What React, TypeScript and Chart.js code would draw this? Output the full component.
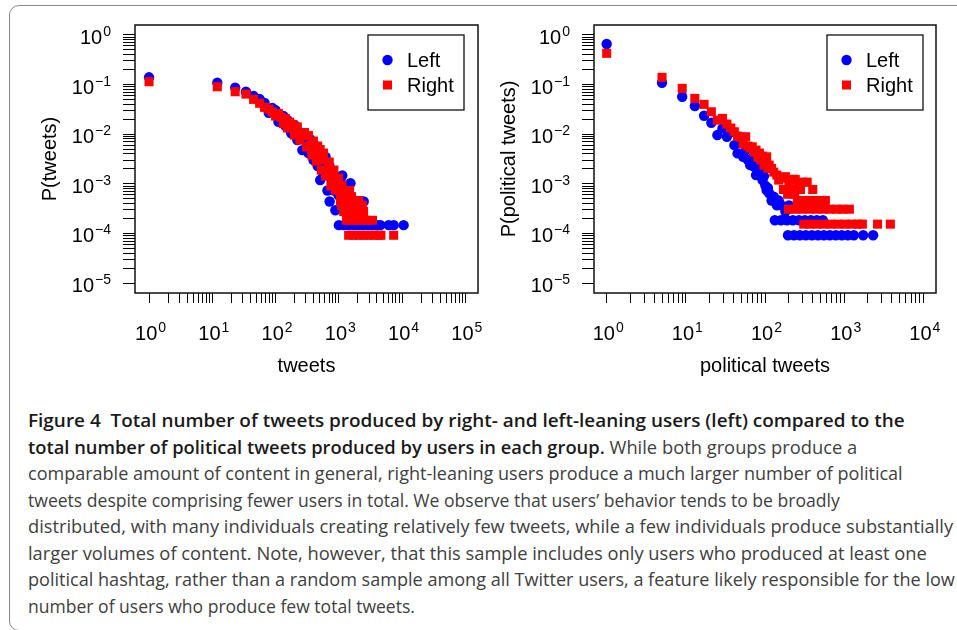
import React, { useEffect, useLayoutEffect, useRef } from 'react';
import { Chart, registerables } from 'chart.js';

Chart.register(...registerables);
const FONT = '"Liberation Sans", Arial, Helvetica, sans-serif';
Chart.defaults.font.family = FONT;
Chart.defaults.color = '#000';

type Pt = [number, number];

// ---------- Left panel: all tweets (x = tweets, y = P(tweets)) ----------
const tweetsLeft: Pt[] = [
  [1, 0.14], [12, 0.109], [23, 0.0862], [34, 0.072], [45, 0.0586], [56, 0.051], [67, 0.0424],
  [78, 0.027], [89, 0.0336], [100, 0.0306], [111, 0.0178], [122, 0.0221], [133, 0.0232],
  [144, 0.0146], [155, 0.0192], [166, 0.0146], [177, 0.0104], [188, 0.0133], [199, 0.0153],
  [221, 0.00762], [243, 0.0096], [265, 0.00478], [287, 0.0105], [309, 0.00693], [331, 0.00416],
  [353, 0.00796], [375, 0.00478], [397, 0.00301], [419, 0.00603], [441, 0.00379], [463, 0.00228],
  [485, 0.00478], [507, 0.00119], [529, 0.00274], [551, 0.00379], [573, 0.0015], [617, 0.0035],
  [639, 0.00189], [661, 0.000735], [705, 0.00238], [716, 0.000441], [749, 0.0013], [793, 0.00172],
  [837, 0.000735], [881, 0.000294], [925, 0.00103], [991, 0.000588], [1057, 0.00118], [1133, 0.00147],
  [1189, 0.000441], [1277, 0.000588], [1343, 0.000294], [1431, 0.000735], [1530, 0.00103],
  [1651, 0.000441], [1816, 0.000294], [2003, 0.000441], [2201, 0.000294], [2476, 0.000441],
  [1002, 0.000147], [1200, 0.000147], [1420, 0.000147], [1709, 0.000147], [2049, 0.000147],
  [2450, 0.000147], [2948, 0.000147], [3410, 0.000147], [4036, 0.000147], [4548, 0.000147],
  [6141, 0.000147], [7361, 0.000147], [10570, 0.000147],
];
const tweetsRight: Pt[] = [
  [1, 0.114], [12, 0.0903], [23, 0.0716], [34, 0.0643], [45, 0.0503], [56, 0.042], [67, 0.0347],
  [78, 0.0321], [89, 0.0279], [100, 0.0232], [111, 0.026], [122, 0.0221], [133, 0.0163],
  [144, 0.0206], [155, 0.0133], [166, 0.0175], [177, 0.014], [188, 0.0157], [199, 0.0096],
  [221, 0.014], [243, 0.00762], [265, 0.0096], [287, 0.0108], [309, 0.0055], [331, 0.00937],
  [353, 0.00603], [375, 0.00379], [397, 0.00726], [419, 0.00478], [441, 0.00287], [463, 0.00576],
  [485, 0.00362], [507, 0.0049], [529, 0.00189], [551, 0.00301], [573, 0.00416], [617, 0.00143],
  [661, 0.00189], [705, 0.00274], [749, 0.0009], [793, 0.0013], [837, 0.00189], [881, 0.00075],
  [925, 0.00108], [991, 0.0013], [1057, 0.000552], [1123, 0.00092],
  [1188, 0.000736], [1478, 0.000736], [1105, 0.000644], [1325, 0.000644],
  [1277, 0.000552], [1589, 0.000552], [1065, 0.00046], [1330, 0.00046], [1648, 0.00046], [2049, 0.00046],
  [1110, 0.000368], [1425, 0.000368], [1837, 0.000368], [2370, 0.000368],
  [1195, 0.000276], [1532, 0.000276], [1976, 0.000276], [2458, 0.000276],
  [1320, 0.000184], [1595, 0.000184], [1905, 0.000184], [2285, 0.000184], [2742, 0.000184], [3410, 0.000184],
  [1430, 0.000092], [1709, 0.000092], [2055, 0.000092], [2465, 0.000092], [2948, 0.000092],
  [3535, 0.000092], [4235, 0.000092], [4630, 0.000092], [7361, 0.000092],
];

// ---------- Right panel: political tweets ----------
const politicalLeft: Pt[] = [
  [1, 0.656], [5, 0.109], [9, 0.0568], [13, 0.0369], [17, 0.0235], [21, 0.017], [25, 0.0096],
  [29, 0.0131], [33, 0.00887], [37, 0.011], [41, 0.00603], [45, 0.0041], [49, 0.00662], [53, 0.0035],
  [57, 0.00478], [61, 0.003], [65, 0.00238], [69, 0.0033], [73, 0.00221], [77, 0.0015], [81, 0.00207],
  [85, 0.00172], [89, 0.00162], [93, 0.00119], [97, 0.00143], [101, 0.00092], [105, 0.000736],
  [109, 0.000828], [113, 0.000644], [121, 0.00046], [129, 0.000552], [141, 0.000368], [149, 0.00046],
  [161, 0.000368], [181, 0.000276], [201, 0.000368],
  [133, 0.000184], [159, 0.000184], [189, 0.000184], [225, 0.000184], [268, 0.000184], [319, 0.000184],
  [380, 0.000184], [452, 0.000184], [538, 0.000184],
  [195, 0.000092], [232, 0.000092], [276, 0.000092], [328, 0.000092], [391, 0.000092], [466, 0.000092],
  [554, 0.000092], [659, 0.000092], [785, 0.000092], [935, 0.000092], [1113, 0.000092], [1325, 0.000092],
  [1738, 0.000092], [2323, 0.000092],
];
const politicalRight: Pt[] = [
  [1, 0.426], [5, 0.14], [9, 0.0838], [13, 0.0527], [17, 0.0399], [21, 0.0283], [25, 0.0192],
  [29, 0.0208], [33, 0.016], [37, 0.0133], [41, 0.0112], [45, 0.00916], [49, 0.00874], [53, 0.00631],
  [57, 0.00887], [61, 0.00576], [65, 0.00525], [69, 0.00557], [73, 0.00436], [77, 0.00478],
  [81, 0.00345], [85, 0.00416], [89, 0.00301], [93, 0.00362], [97, 0.00238], [101, 0.00274],
  [105, 0.0035], [109, 0.00207], [113, 0.00238], [121, 0.00204], [129, 0.00172], [141, 0.0015],
  [149, 0.00119], [161, 0.0013], [171, 0.00077], [181, 0.00139], [193, 0.000616], [201, 0.00108],
  [213, 0.00077], [221, 0.00123], [237, 0.000616], [241, 0.00123], [261, 0.000924], [265, 0.00077],
  [281, 0.00077], [301, 0.00108], [341, 0.00108], [401, 0.00077],
  [256, 0.000462], [305, 0.000462], [364, 0.000462], [433, 0.000462], [515, 0.000462], [579, 0.000462],
  [197, 0.000308], [239, 0.000308], [292, 0.000308], [358, 0.000308], [439, 0.000308], [538, 0.000308],
  [659, 0.000308], [807, 0.000308], [961, 0.000308], [1163, 0.000308],
  [309, 0.000154], [369, 0.000154], [452, 0.000154], [554, 0.000154], [679, 0.000154], [832, 0.000154],
  [1021, 0.000154], [1251, 0.000154], [1489, 0.000154], [1698, 0.000154], [2641, 0.000154], [3831, 0.000154],
];

const seriesNames = ['Left', 'Right'];
const seriesColors = ['#0000ff', '#ff0000'];

const yDecades = [-5, -4, -3, -2, -1, 0];
const tweetsXDecades = [0, 1, 2, 3, 4, 5];
const politicalXDecades = [0, 1, 2, 3, 4];
const minorMultipliers = [1, 2, 3, 4, 5, 6, 7, 8, 9];

const captionTitle = [
  'Figure 4\u00a0\u00a0Total number of tweets produced by right- and left-leaning users (left) compared to the',
  'total number of political tweets produced by users in each group.',
];
const captionBody = [
  ' While both groups produce a',
  'comparable amount of content in general, right-leaning users produce a much larger number of political',
  'tweets despite comprising fewer users in total. We observe that users\u2019 behavior tends to be broadly',
  'distributed, with many individuals creating relatively few tweets, while a few individuals produce substantially',
  'larger volumes of content. Note, however, that this sample includes only users who produced at least one',
  'political hashtag, rather than a random sample among all Twitter users, a feature likely responsible for the low',
  'number of users who produce few total tweets.',
];
// rendered width of each caption line (layout)
const captionLineWidths = [877, 829, 875, 812, 925, 899, 927, 387];

function logTicks(decades: number[]) {
  const out: number[] = [];
  for (let i = 0; i < decades.length - 1; i++) {
    for (const m of minorMultipliers) out.push(m * Math.pow(10, decades[i]));
  }
  out.push(Math.pow(10, decades[decades.length - 1]));
  return out;
}
function decadeOf(v: number): number | null {
  const l = Math.log10(v);
  const r = Math.round(l);
  return Math.abs(l - r) < 1e-6 ? r : null;
}

// draws "10" with a raised exponent at every decade tick of each axis
const powerLabelPlugin = {
  id: 'powerLabels',
  afterDraw(chart: any) {
    const { ctx } = chart;
    ctx.save();
    ctx.fillStyle = '#000';
    ctx.textBaseline = 'alphabetic';
    ctx.textAlign = 'left';
    for (const id of ['x', 'y']) {
      const s = chart.scales[id];
      for (const t of s.ticks) {
        const e = decadeOf(t.value);
        if (e === null) continue;
        const base = '10';
        const sup = String(e).replace('-', '\u2212');
        ctx.font = `20px ${FONT}`;
        const wb = ctx.measureText(base).width;
        ctx.font = `14px ${FONT}`;
        const ws = ctx.measureText(sup).width;
        const total = wb + 1 + ws;
        const p = s.getPixelForValue(t.value);
        let x0: number;
        let by: number;
        if (id === 'x') {
          x0 = p - total / 2 + 1.5;
          by = s.top + 47;
        } else {
          x0 = s.right - 24 - total;
          by = p + 9;
        }
        ctx.font = `20px ${FONT}`;
        ctx.fillText(base, x0, by);
        ctx.font = `14px ${FONT}`;
        ctx.fillText(sup, x0 + wb + 1, by - 8);
      }
    }
    ctx.restore();
  },
};

const boxPlugin = {
  id: 'plotBox',
  afterDraw(chart: any) {
    const { ctx, chartArea: a } = chart;
    ctx.save();
    ctx.strokeStyle = '#111';
    ctx.lineWidth = 1.5;
    ctx.strokeRect(a.left, a.top, a.right - a.left, a.bottom - a.top);
    ctx.restore();
  },
};

const legendPlugin = {
  id: 'boxLegend',
  afterDatasetsDraw(chart: any, _args: any, opts: any) {
    const { ctx, chartArea: a } = chart;
    const w = 96;
    const h = 75;
    const x0 = a.right - opts.right - w;
    const y0 = a.top + opts.top;
    ctx.save();
    ctx.fillStyle = '#fff';
    ctx.fillRect(x0, y0, w, h);
    ctx.strokeStyle = '#111';
    ctx.lineWidth = 1.3;
    ctx.strokeRect(x0, y0, w, h);
    chart.data.datasets.forEach((ds: any, i: number) => {
      const cy = y0 + 25 + i * 25;
      const cx = x0 + 19.5;
      ctx.fillStyle = ds.backgroundColor;
      if (ds.pointStyle === 'rect') {
        ctx.fillRect(cx - 4.5, cy - 4.5, 9, 9);
      } else {
        ctx.beginPath();
        ctx.arc(cx, cy, 5.2, 0, Math.PI * 2);
        ctx.fill();
      }
      ctx.fillStyle = '#000';
      ctx.font = `20px ${FONT}`;
      ctx.textBaseline = 'middle';
      ctx.textAlign = 'left';
      ctx.fillText(ds.label, x0 + 39, cy + 1);
    });
    ctx.restore();
  },
};

function makeConfig(p: {
  series: Pt[][];
  xDecades: number[];
  xPad: number;
  xTitle: string;
  yTitle: string;
  yAxisWidth: number;
  yTitlePad: number;
  padRight: number;
  legendRight: number;
}): any {
  const xd = p.xDecades;
  const xMin = Math.pow(10, xd[0] - p.xPad);
  const xMax = Math.pow(10, xd[xd.length - 1] + p.xPad);
  const xTicks = logTicks(xd);
  const yTicks = logTicks(yDecades);
  return {
    type: 'scatter',
    data: {
      datasets: p.series.map((pts, i) => ({
        label: seriesNames[i],
        data: pts.map(([x, y]) => ({ x, y })),
        backgroundColor: seriesColors[i],
        borderColor: seriesColors[i],
        borderWidth: 0,
        pointStyle: i === 0 ? 'circle' : 'rect',
        pointRadius: i === 0 ? 5.2 : 6.4,
        pointHoverRadius: i === 0 ? 5.2 : 6.4,
        order: i === 0 ? 1 : 0,
      })),
    },
    options: {
      animation: false,
      responsive: false,
      events: [],
      layout: { padding: { left: 0, top: 25, right: p.padRight, bottom: 0 } },
      plugins: {
        legend: { display: false },
        tooltip: { enabled: false },
        boxLegend: { right: p.legendRight, top: 10 },
      },
      scales: {
        x: {
          type: 'logarithmic',
          position: 'bottom',
          min: xMin,
          max: xMax,
          afterBuildTicks: (s: any) => {
            s.ticks = xTicks.map((v) => ({ value: v }));
          },
          afterFit: (s: any) => {
            s.height = 97;
          },
          ticks: { autoSkip: false, maxRotation: 0, padding: 0, callback: () => '' },
          grid: { drawOnChartArea: false, drawTicks: true, tickLength: 10, color: '#000', lineWidth: 1 },
          border: { display: false },
          title: { display: true, text: p.xTitle, color: '#000', font: { size: 20 }, padding: { top: 0, bottom: 12 } },
        },
        y: {
          type: 'logarithmic',
          position: 'left',
          min: Math.pow(10, -5.2),
          max: Math.pow(10, 0.2),
          afterBuildTicks: (s: any) => {
            s.ticks = yTicks.map((v) => ({ value: v }));
          },
          afterFit: (s: any) => {
            s.width = p.yAxisWidth;
          },
          ticks: { autoSkip: false, padding: 0, callback: () => '' },
          grid: { drawOnChartArea: false, drawTicks: true, tickLength: 12, color: '#000', lineWidth: 1 },
          border: { display: false },
          title: { display: true, text: p.yTitle, color: '#000', font: { size: 20 }, padding: { top: p.yTitlePad, bottom: 0 } },
        },
      },
    },
    plugins: [boxPlugin, legendPlugin, powerLabelPlugin],
  };
}

export default function App() {
  const c1 = useRef<HTMLCanvasElement>(null);
  const c2 = useRef<HTMLCanvasElement>(null);
  const lineRefs = useRef<(HTMLSpanElement | null)[]>([]);

  useEffect(() => {
    const a = new Chart(c1.current as HTMLCanvasElement, makeConfig({
      series: [tweetsLeft, tweetsRight],
      xDecades: tweetsXDecades,
      xPad: 0.2,
      xTitle: 'tweets',
      yTitle: 'P(tweets)',
      yAxisWidth: 135,
      yTitlePad: 38,
      padRight: 12,
      legendRight: 14,
    }));
    const b = new Chart(c2.current as HTMLCanvasElement, makeConfig({
      series: [politicalLeft, politicalRight],
      xDecades: politicalXDecades,
      xPad: 0.16,
      xTitle: 'political tweets',
      yTitle: 'P(political tweets)',
      yAxisWidth: 104,
      yTitlePad: 7,
      padRight: 21,
      legendRight: 13,
    }));
    return () => {
      a.destroy();
      b.destroy();
    };
  }, []);

  useLayoutEffect(() => {
    const fit = () => {
      lineRefs.current.forEach((el, i) => {
        if (!el) return;
        const w = el.offsetWidth;
        if (w > 0) el.style.transform = `scaleX(${captionLineWidths[i] / w})`;
      });
    };
    fit();
    const fonts = (document as any).fonts;
    if (fonts && fonts.ready) fonts.ready.then(fit);
  }, []);

  const lineBox: React.CSSProperties = { display: 'block', whiteSpace: 'nowrap', height: 26.5 };
  const lineInner: React.CSSProperties = { display: 'inline-block', whiteSpace: 'nowrap', transformOrigin: '0 0' };
  const bold: React.CSSProperties = { fontWeight: 600, color: '#1a1a1a' };

  const lines: React.ReactNode[] = [
    <span style={bold}>{captionTitle[0]}</span>,
    <>
      <span style={bold}>{captionTitle[1]}</span>
      {captionBody[0]}
    </>,
    ...captionBody.slice(1),
  ];

  return (
    <div style={{ position: 'absolute', left: 0, top: 0, width: 957, height: 630, overflow: 'hidden', background: '#fff' }}>
      <div
        style={{
          position: 'absolute', left: 8.5, top: 4.5, width: 1000, height: 626,
          border: '1.5px solid #8a8a8a', borderRadius: 10, boxSizing: 'border-box',
        }}
      />
      <canvas ref={c1} width={490} height={390} style={{ position: 'absolute', left: 0, top: 0, width: 490, height: 390 }} />
      <canvas ref={c2} width={467} height={390} style={{ position: 'absolute', left: 490, top: 0, width: 467, height: 390 }} />
      <div
        style={{
          position: 'absolute', left: 28, top: 407,
          fontFamily: '"Open Sans", "Noto Sans", sans-serif', fontSize: 18.5, lineHeight: '26.5px', color: '#404040',
        }}
      >
        {lines.map((content, i) => (
          <span key={i} style={lineBox}>
            <span ref={(el) => { lineRefs.current[i] = el; }} style={lineInner}>{content}</span>
          </span>
        ))}
      </div>
    </div>
  );
}
